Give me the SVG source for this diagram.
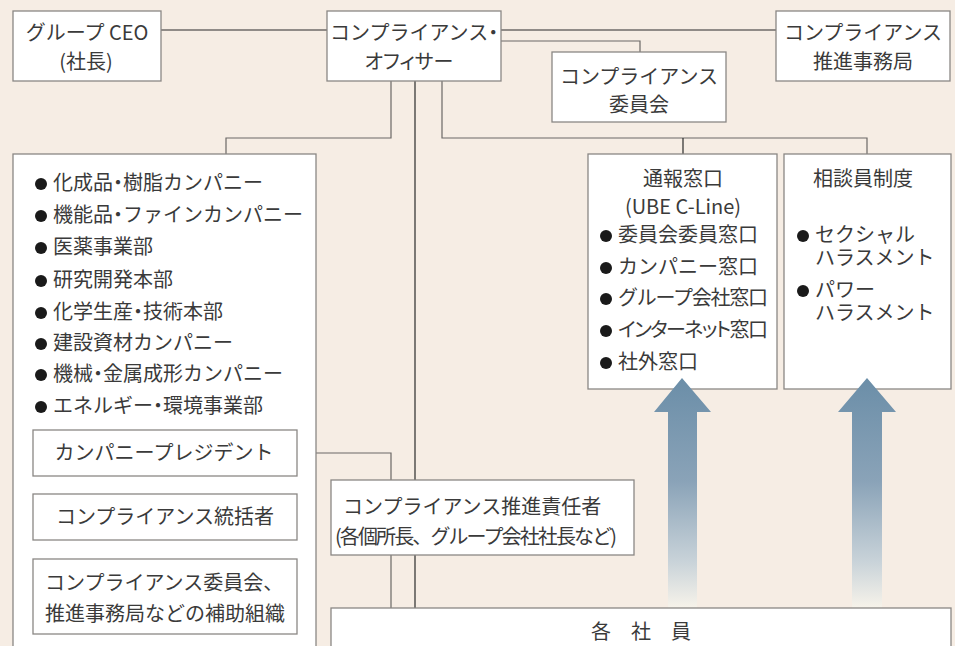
<svg xmlns="http://www.w3.org/2000/svg" width="955" height="646" viewBox="0 0 955 646">
<defs>
<style>
.bx{fill:#fff;stroke:#8a8784;stroke-width:1.3}
.t{font-family:"Noto Sans CJK JP","Noto Sans",sans-serif;font-size:20px;fill:#3a3a3a}
.p{font-feature-settings:"palt"}
.c{text-anchor:middle}
.ln{fill:none;stroke:#6b6866;stroke-width:1.2}
.dk{fill:none;stroke:#2a2a2a;stroke-width:1.2}
.dot{fill:#1a1a1a}
</style>
<linearGradient id="ag" x1="0" y1="0" x2="0" y2="1">
<stop offset="0" stop-color="#6b8ea8"/>
<stop offset="0.45" stop-color="#8aa3b8"/>
<stop offset="0.8" stop-color="#c9d3d9"/>
<stop offset="1" stop-color="#f7f3ea"/>
</linearGradient>
</defs>
<rect x="0" y="0" width="955" height="646" fill="#f6ede4"/>

<g id="connectors">
<path class="dk" d="M161 30H327"/>
<path class="dk" d="M501 30H776"/>
<path class="ln" d="M501 41H640V52"/>
<path class="ln" d="M391 81V138H226V154"/>
<path class="dk" d="M415 81V608"/>
<path class="ln" d="M442 81V138H867V154"/>
<path class="dk" d="M683 138V154"/>
<path class="ln" d="M316 453H391V480"/>
<path class="ln" d="M391 555V608"/>
<path class="ln" d="M165 476V494"/>
<path class="ln" d="M165 540V559"/>
</g>

<g id="ceo">
<rect class="bx" x="13" y="11" width="148" height="70"/>
<text class="t c" x="87" y="40">グループ CEO</text>
<text class="t c" x="86" y="69">(社長)</text>
</g>

<g id="officer">
<rect class="bx" x="327" y="11" width="174" height="70"/>
<text class="t" x="330" y="40">コンプライアンス<tspan class="p">・</tspan></text>
<text class="t c p" x="409" y="69">オフィサー</text>
</g>

<g id="secretariat">
<rect class="bx" x="776" y="11" width="174" height="70"/>
<text class="t c" x="863" y="40">コンプライアンス</text>
<text class="t c" x="863" y="69">推進事務局</text>
</g>

<g id="committee">
<rect class="bx" x="552" y="52" width="174" height="70"/>
<text class="t c" x="639" y="84">コンプライアンス</text>
<text class="t c" x="639" y="112">委員会</text>
</g>

<g id="divisions">
<rect class="bx" x="13" y="154" width="303" height="500"/>
<g class="t">
<text x="53" y="190">化成品<tspan class="p">・</tspan>樹脂カンパニー</text>
<text x="53" y="222">機能品<tspan class="p">・</tspan>ファインカンパニー</text>
<text x="53" y="254">医薬事業部</text>
<text x="53" y="287">研究開発本部</text>
<text x="53" y="319">化学生産<tspan class="p">・</tspan>技術本部</text>
<text x="53" y="350">建設資材カンパニー</text>
<text x="53" y="381">機械<tspan class="p">・</tspan>金属成形カンパニー</text>
<text x="53" y="413">エネルギー<tspan class="p">・</tspan>環境事業部</text>
</g>
<circle class="dot" cx="41" cy="184" r="6"/>
<circle class="dot" cx="41" cy="216" r="6"/>
<circle class="dot" cx="41" cy="248" r="6"/>
<circle class="dot" cx="41" cy="281" r="6"/>
<circle class="dot" cx="41" cy="313" r="6"/>
<circle class="dot" cx="41" cy="344" r="6"/>
<circle class="dot" cx="41" cy="375" r="6"/>
<circle class="dot" cx="41" cy="407" r="6"/>
</g>

<g id="president">
<rect class="bx" x="33" y="430" width="264" height="46"/>
<text class="t c" x="164" y="460">カンパニープレジデント</text>
</g>

<g id="supervisor">
<rect class="bx" x="33" y="494" width="264" height="46"/>
<text class="t c" x="165" y="524">コンプライアンス統括者</text>
</g>

<g id="support">
<rect class="bx" x="33" y="559" width="264" height="75"/>
<text class="t" x="45" y="590">コンプライアンス委員会、</text>
<text class="t" x="45" y="621">推進事務局などの補助組織</text>
</g>

<g id="promoter">
<rect class="bx" x="331" y="480" width="303" height="75"/>
<text class="t" x="343" y="514">コンプライアンス推進責任者</text>
<text class="t" x="335" y="544" textLength="282" lengthAdjust="spacing">(各個所長、グループ会社社長など)</text>
</g>

<g id="hotline">
<rect class="bx" x="588" y="154" width="189" height="235"/>
<text class="t c" x="683" y="186">通報窓口</text>
<text class="t c" x="683" y="214">(UBE C-Line)</text>
<g class="t">
<text x="618" y="242">委員会委員窓口</text>
<text x="618" y="274">カンパニー窓口</text>
<text x="618" y="305" textLength="150" lengthAdjust="spacing">グループ会社窓口</text>
<text class="p" x="618" y="337" textLength="150" lengthAdjust="spacing">インターネット窓口</text>
<text x="618" y="369">社外窓口</text>
</g>
<circle class="dot" cx="606" cy="236" r="6"/>
<circle class="dot" cx="606" cy="268" r="6"/>
<circle class="dot" cx="606" cy="299" r="6"/>
<circle class="dot" cx="606" cy="331" r="6"/>
<circle class="dot" cx="606" cy="363" r="6"/>
</g>

<g id="counselor">
<rect class="bx" x="784" y="154" width="167" height="235"/>
<text class="t c" x="863" y="186">相談員制度</text>
<text class="t"><tspan x="815" y="242">セクシャル</tspan><tspan x="815" y="265">ハラスメント</tspan></text>
<text class="t"><tspan x="815" y="297">パワー</tspan><tspan x="815" y="320">ハラスメント</tspan></text>
<circle class="dot" cx="803" cy="236" r="6"/>
<circle class="dot" cx="803" cy="291" r="6"/>
</g>

<g id="arrows">
<path fill="url(#ag)" d="M682 378L711 412H697V608H668V412H654Z"/>
<path fill="url(#ag)" d="M867 378L896 412H882V608H852V412H838Z"/>
</g>

<g id="employees">
<rect class="bx" x="331" y="608" width="620" height="50"/>
<text class="t c" x="641" y="639">各　社　員</text>
</g>
</svg>
